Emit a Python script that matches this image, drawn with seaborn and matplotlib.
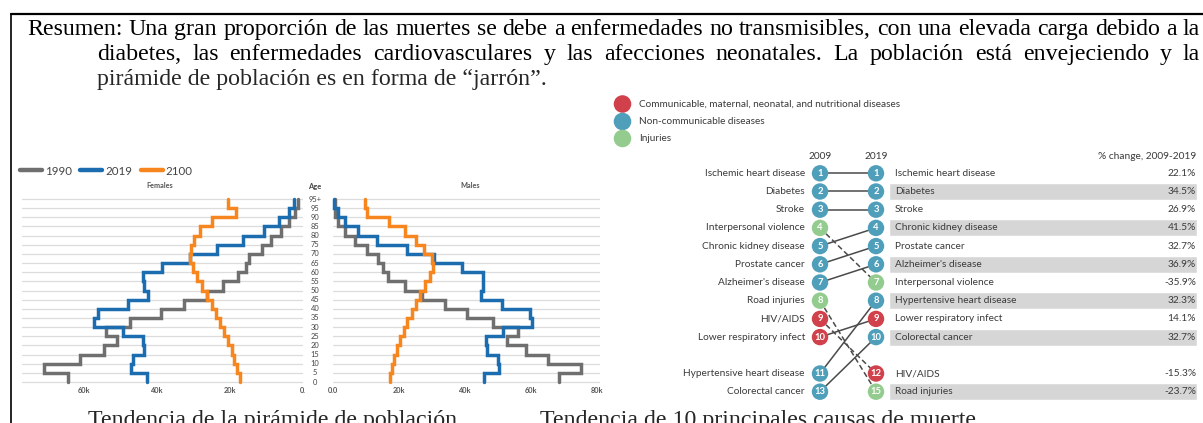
import numpy as np
import pandas as pd
import matplotlib
matplotlib.use("Agg")
import matplotlib.pyplot as plt
from matplotlib.lines import Line2D
import seaborn as sns

# ---------------- data ----------------
age_labels = ["0", "5", "10", "15", "20", "25", "30", "35", "40", "45", "50",
              "55", "60", "65", "70", "75", "80", "85", "90", "95", "95+"]
years = ["1990", "2019", "2100"]
# population in thousands, age groups 0-4 ... 95+
fem_1990 = [64.3, 71.1, 61.0, 54.5, 50.9, 54.0, 47.4, 38.9, 32.5, 26.4, 22.0, 17.9, 15.7, 14.7, 11.3, 8.8, 6.1, 3.7, 2.2, 1.5]
fem_2019 = [42.7, 47.1, 46.5, 43.6, 43.8, 49.2, 57.2, 56.1, 47.9, 42.4, 43.6, 43.8, 38.5, 31.1, 23.6, 16.4, 10.6, 6.5, 3.8, 2.4]
fem_2100 = [17.3, 18.0, 18.8, 19.5, 20.6, 21.6, 22.7, 23.8, 25.0, 26.2, 27.8, 29.1, 30.2, 31.0, 30.7, 30.0, 28.2, 25.0, 18.4, 20.6]
male_1990 = [68.6, 75.2, 65.2, 58.5, 52.6, 56.2, 48.6, 40.5, 34.0, 26.9, 21.8, 16.8, 15.1, 13.7, 10.2, 6.7, 3.6, 1.6, 0.6, 0.6]
male_2019 = [45.9, 50.4, 50.1, 46.6, 46.4, 51.6, 60.2, 59.7, 51.1, 44.8, 45.4, 45.4, 39.0, 30.6, 22.3, 13.4, 7.7, 3.6, 1.4, 0.4]
male_2100 = [17.3, 17.8, 18.5, 19.3, 20.3, 21.5, 22.5, 23.8, 25.2, 26.4, 27.9, 29.4, 30.2, 29.9, 27.6, 25.2, 21.8, 17.1, 10.4, 9.7]
fem_ticks = [60, 40, 20, 0]
fem_tick_labels = ["60k", "40k", "20k", "0."]
male_ticks = [0, 20, 40, 60, 80]
male_tick_labels = ["0.0", "20k", "40k", "60k", "80k"]

causes_2009 = ["Ischemic heart disease", "Diabetes", "Stroke", "Interpersonal violence",
               "Chronic kidney disease", "Prostate cancer", "Alzheimer's disease", "Road injuries",
               "HIV/AIDS", "Lower respiratory infect", "Hypertensive heart disease", "Colorectal cancer"]
rank_2009 = [1, 2, 3, 4, 5, 6, 7, 8, 9, 10, 11, 13]
causes_2019 = ["Ischemic heart disease", "Diabetes", "Stroke", "Chronic kidney disease",
               "Prostate cancer", "Alzheimer's disease", "Interpersonal violence",
               "Hypertensive heart disease", "Lower respiratory infect", "Colorectal cancer",
               "HIV/AIDS", "Road injuries"]
rank_2019 = [1, 2, 3, 4, 5, 6, 7, 8, 9, 10, 12, 15]
pct_change = [22.1, 34.5, 26.9, 41.5, 32.7, 36.9, -35.9, 32.3, 14.1, 32.7, -15.3, -23.7]
cause_group = {"Ischemic heart disease": "ncd", "Diabetes": "ncd", "Stroke": "ncd",
               "Interpersonal violence": "inj", "Chronic kidney disease": "ncd",
               "Prostate cancer": "ncd", "Alzheimer's disease": "ncd", "Road injuries": "inj",
               "HIV/AIDS": "cmnn", "Lower respiratory infect": "cmnn",
               "Hypertensive heart disease": "ncd", "Colorectal cancer": "ncd"}
group_names = ["Communicable, maternal, neonatal, and nutritional diseases",
               "Non-communicable diseases", "Injuries"]

summary_lines = ["Resumen: Una gran proporción de las muertes se debe a enfermedades no transmisibles, con una elevada carga debido a la",
                 "diabetes, las enfermedades cardiovasculares y las afecciones neonatales. La población está envejeciendo y la",
                 "pirámide de población es en forma de “jarrón”."]
captions = ["Tendencia de la pirámide de población", "Tendencia de 10 principales causas de muerte"]

# ---------------- style ----------------
sns.set_theme(style="white")
plt.rcParams["font.family"] = ["Lato", "DejaVu Sans"]
W, H = 1203, 423
fig = plt.figure(figsize=(W / 100, H / 100), dpi=100)
fig.patch.set_facecolor("white")

def px_axes(x0, y0, x1, y1):
    return fig.add_axes([x0 / W, 1 - y1 / H, (x1 - x0) / W, (y1 - y0) / H])

year_pal = {"1990": "#6f6f6f", "2019": "#1b6db0", "2100": "#f7861f"}
grp_pal = {"cmnn": "#d1414b", "ncd": "#4f9fbb", "inj": "#93cc8e"}

def step_frame(series):
    rows = []
    for yr, vals in series.items():
        for k, v in enumerate(vals):
            rows.append((yr, v, k))
            rows.append((yr, v, k + 1))
    return pd.DataFrame(rows, columns=["year", "value", "age_pos"])

# pyramid geometry: age 0 boundary at px 382, 95+ top at px 199
y_px0, y_step = 382.0, 9.15
ax_top, ax_bot = 195, 384
ylim = (-(ax_bot - y_px0) / y_step, 20 + (199 - ax_top) / y_step)

def setup_pyr(ax, df, xlim, ticks, labels):
    sns.lineplot(data=df, x="value", y="age_pos", hue="year", palette=year_pal,
                 hue_order=years, estimator=None, sort=False, orient="y",
                 linewidth=2.5, legend=False, ax=ax)
    for ln in ax.lines:
        ln.set_solid_joinstyle("miter")
        ln.set_clip_on(False)
    ax.set_xlim(*xlim)
    ax.set_ylim(*ylim)
    ax.set_yticks(range(21))
    ax.set_yticklabels([])
    ax.set_xticks(ticks)
    ax.set_xticklabels(labels, fontsize=5.3, fontweight="bold", color="#555555")
    ax.tick_params(axis="both", length=0, pad=2)
    ax.grid(axis="y", color="#dcdcdc", linewidth=0.9)
    ax.grid(axis="x", visible=False)
    ax.set_xlabel("")
    ax.set_ylabel("")
    ax.set_axisbelow(True)
    for s in ax.spines.values():
        s.set_visible(False)
    ax.patch.set_alpha(0)

ax_f = px_axes(22, ax_top, 303, ax_bot)
setup_pyr(ax_f, step_frame({"1990": fem_1990, "2019": fem_2019, "2100": fem_2100}),
          (77, 0), fem_ticks, fem_tick_labels)
ax_m = px_axes(333, ax_top, 600, ax_bot)
setup_pyr(ax_m, step_frame({"1990": male_1990, "2019": male_2019, "2100": male_2100}),
          (0, 80.9), male_ticks, male_tick_labels)

# age labels between panels
age_x = (315 - 333) / (600 - 333)
for i, lab in enumerate(age_labels):
    ax_m.text(age_x, i, lab, transform=ax_m.get_yaxis_transform(), ha="center", va="center",
              fontsize=5.4, color="#444444")
fig.text(315 / W, 1 - 186 / H, "Age", ha="center", va="center", fontsize=5.4,
         fontweight="bold", color="#444444")
fig.text(160 / W, 1 - 186 / H, "Females", ha="center", va="center", fontsize=5.2,
         fontweight="bold", color="#555555")
fig.text(470 / W, 1 - 186 / H, "Males", ha="center", va="center", fontsize=5.2,
         fontweight="bold", color="#555555")

handles = [Line2D([0], [0], color=year_pal[y], lw=3.2, solid_capstyle="round") for y in years]
fig.legend(handles, years, loc="center left", bbox_to_anchor=(20 / W, 1 - 171 / H),
           ncol=3, frameon=False, fontsize=8.3, handlelength=1.9, handletextpad=0.25,
           columnspacing=0.75, borderaxespad=0, borderpad=0,
           labelcolor="#444444")

# ---------------- slope chart ----------------
ax_r = px_axes(600, 90, 1203, 423)
px_per_year = 5.6
x_left = 2009 - (820 - 600) / px_per_year
x_right = 2009 + (1203 - 820) / px_per_year
slot_px0, slot_step = 173.3, 18.2
ax_r.set_xlim(x_left, x_right)
ax_r.set_ylim(1 + (423 - slot_px0) / slot_step, 1 - (slot_px0 - 90) / slot_step)
ax_r.axis("off")

def X(px):
    return 2009 + (px - 820) / px_per_year

def Y(px):
    return 1 + (px - slot_px0) / slot_step

slot_of = lambda i: i + 1 if i < 10 else i + 2
slot09 = {c: slot_of(i) for i, c in enumerate(causes_2009)}
slot19 = {c: slot_of(i) for i, c in enumerate(causes_2019)}
r09 = dict(zip(causes_2009, rank_2009))
r19 = dict(zip(causes_2019, rank_2019))

# alternating bands on the 2019 side
band_slots = [slot_of(i) for i in range(len(causes_2019)) if i % 2 == 1]
ax_r.barh(band_slots, X(1197) - X(889), left=X(889), height=0.93, color="#d6d6d6", zorder=0)

# connecting lines
for c in causes_2009:
    falling = slot19[c] > slot09[c]
    ax_r.plot([2009, 2019], [slot09[c], slot19[c]], color="#4a4a4a", lw=1.1,
              ls=(0, (3.5, 2)) if falling else "-", zorder=1)

pts = pd.DataFrame(
    [(2009, slot09[c], r09[c], cause_group[c]) for c in causes_2009] +
    [(2019, slot19[c], r19[c], cause_group[c]) for c in causes_2019],
    columns=["year", "slot", "rank", "group"])
sns.scatterplot(data=pts, x="year", y="slot", hue="group", palette=grp_pal, s=140,
                edgecolor="none", legend=False, ax=ax_r, zorder=3)
for _, r in pts.iterrows():
    ax_r.text(r["year"], r["slot"], str(r["rank"]), ha="center", va="center",
              fontsize=6.8, fontweight="bold", color="white", zorder=4)

txt_col = "#3a3a3a"
tfs = 7.3
for c in causes_2009:
    ax_r.text(X(805), slot09[c], c, ha="right", va="center", fontsize=tfs, color=txt_col)
for c, p in zip(causes_2019, pct_change):
    ax_r.text(X(895), slot19[c], c, ha="left", va="center", fontsize=tfs, color=txt_col)
    ax_r.text(X(1196), slot19[c], f"{p:.1f}%", ha="right", va="center", fontsize=tfs, color=txt_col)
ax_r.text(2009, Y(156.5), "2009", ha="center", va="center", fontsize=tfs, color=txt_col)
ax_r.text(2019, Y(156.5), "2019", ha="center", va="center", fontsize=tfs, color=txt_col)
ax_r.text(X(1196), Y(156.5), "% change, 2009-2019", ha="right", va="center", fontsize=tfs, color=txt_col)

# category legend
leg_y = [104, 121.5, 138.5]
for g, name, yy in zip(["cmnn", "ncd", "inj"], group_names, leg_y):
    ax_r.scatter([X(622.5)], [Y(yy)], s=160, color=grp_pal[g], edgecolor="none")
    ax_r.text(X(639), Y(yy), name, ha="left", va="center", fontsize=7.2, color=txt_col)

# ---------------- frame and texts ----------------
fig.add_artist(Line2D([11 / W, 1], [1 - 14 / H, 1 - 14 / H], color="black", lw=1.6))
fig.add_artist(Line2D([11 / W, 11 / W], [0, 1 - 14 / H], color="black", lw=1.2))

serif = ["Liberation Serif", "DejaVu Serif"]
fs = 17.2
renderer = fig.canvas.get_renderer()

def justify(text, x0, x1, base):
    words = text.split(" ")
    ts = [fig.text(0, 0, w, fontsize=fs, family=serif, va="baseline", color="black") for w in words]
    widths = [t.get_window_extent(renderer).width for t in ts]
    gap = (x1 - x0 - sum(widths)) / (len(words) - 1)
    x = x0
    for t, w in zip(ts, widths):
        t.set_position((x / W, 1 - base / H))
        x += w + gap

justify(summary_lines[0], 27, 1200, 35)
justify(summary_lines[1], 97, 1200, 60)
fig.text(97 / W, 1 - 85 / H, summary_lines[2], fontsize=fs, family=serif, va="baseline")
fig.text(88 / W, 1 - 426 / H, captions[0], fontsize=fs, family=serif, va="baseline")
fig.text(540 / W, 1 - 426 / H, captions[1], fontsize=fs, family=serif, va="baseline")

fig.savefig("out.png", dpi=100)
